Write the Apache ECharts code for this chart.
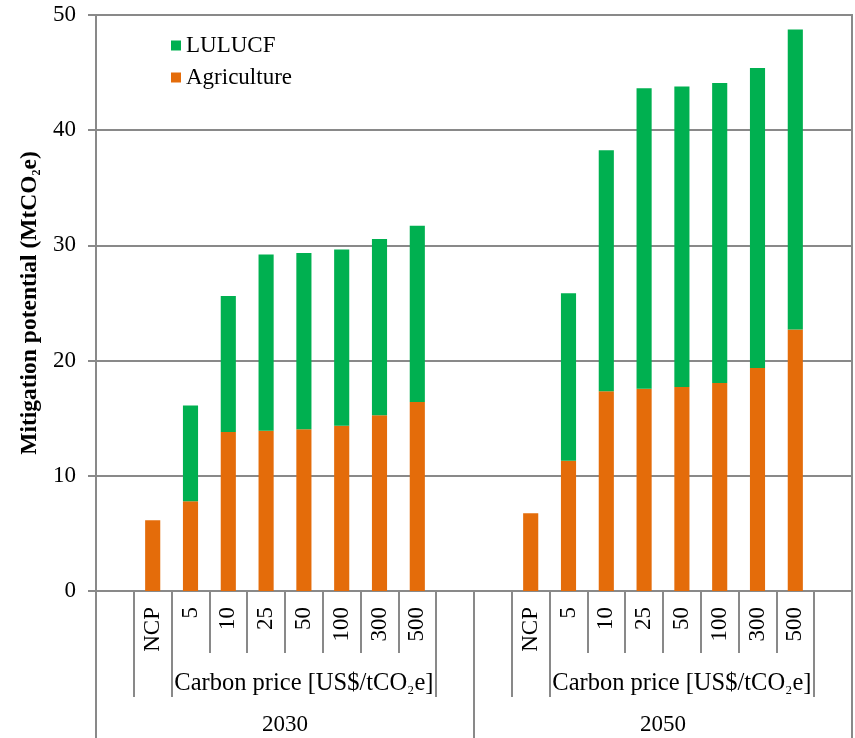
<!DOCTYPE html>
<html>
<head>
<meta charset="utf-8">
<script src="https://cdn.jsdelivr.net/npm/echarts@6/dist/echarts.min.js"></script>
<style>
  html, body { margin: 0; padding: 0; background: #fff; }
  #chart { width: 855px; height: 738px; }
</style>
</head>
<body>
<div id="chart"></div>
<script>
// Carbon price levels (NCP = no carbon price) and scenario years
const priceLabels = ['NCP', '5', '10', '25', '50', '100', '300', '500'];
const years = ['2030', '2050'];
const priceAxisTitle = 'Carbon price [US$/tCO{sub|₂}e]';
const valueAxisTitle = 'Mitigation potential (MtCO{sub|₂}e)';

// Mitigation potential, MtCO2e
const agriculture2030 = [6.15, 7.8, 13.8, 13.9, 14.05, 14.35, 15.25, 16.4];
const lulucf2030 = [null, 8.3, 11.8, 15.3, 15.3, 15.3, 15.3, 15.3];
const agriculture2050 = [6.75, 11.3, 17.35, 17.55, 17.7, 18.05, 19.35, 22.7];
const lulucf2050 = [null, 14.55, 20.9, 26.1, 26.1, 26.05, 26.05, 26.05];

// Each year block gets an empty slot on both sides of its price levels
const padBlock = arr => [null, ...arr, null];
const categories = years.flatMap(() => ['', ...priceLabels, '']);
const agricultureData = [...padBlock(agriculture2030), ...padBlock(agriculture2050)];
const lulucfData = [...padBlock(lulucf2030), ...padBlock(lulucf2050)];
const BLOCK = priceLabels.length + 2;

const FONT = '"Liberation Serif", "Times New Roman", serif';
const GRAY = '#898989';
const txt = { fontFamily: FONT, fontSize: 23, color: '#000' };

const chart = echarts.init(document.getElementById('chart'), null, { renderer: 'canvas' });
chart.setOption({
  animation: false,
  backgroundColor: '#fff',
  grid: {
    left: 96, right: 3, top: 15, bottom: 147,
    show: true, borderColor: GRAY, borderWidth: 2, backgroundColor: 'transparent'
  },
  legend: {
    data: ['LULUCF', 'Agriculture'],
    orient: 'vertical',
    left: 166, top: 29,
    itemWidth: 10, itemHeight: 10, itemGap: 9,
    icon: 'rect',
    textStyle: Object.assign({}, txt)
  },
  xAxis: [
    { // price level labels and the short separators between prices
      type: 'category', data: categories, position: 'bottom',
      axisLine: { show: true, lineStyle: { color: GRAY, width: 2 } },
      axisTick: {
        show: true, length: 62,
        interval: i => (i % BLOCK) >= 3 && (i % BLOCK) <= BLOCK - 2,
        lineStyle: { color: GRAY, width: 2 }
      },
      axisLabel: Object.assign({ interval: 0, rotate: 90, margin: 16 }, txt),
      splitLine: { show: false }
    },
    { // "Carbon price" band with its enclosing separators
      type: 'category', data: categories, position: 'bottom',
      axisLine: { show: false },
      axisTick: {
        show: true, length: 106,
        interval: i => [1, 2, BLOCK - 1].includes(i % BLOCK),
        lineStyle: { color: GRAY, width: 2 }
      },
      axisLabel: Object.assign({
        interval: 0, margin: 80,
        formatter: (v, i) => (i % BLOCK === 5 ? priceAxisTitle : ''),
        rich: { sub: { fontFamily: FONT, fontSize: 21, color: '#000', padding: [2, 0, 0, 0] } }
      }, txt, { fontSize: 24.5 }),
      splitLine: { show: false }
    },
    { // scenario years
      type: 'category', data: years, position: 'bottom',
      axisLine: { show: false },
      axisTick: { show: true, length: 147, interval: 0, lineStyle: { color: GRAY, width: 2 } },
      axisLabel: Object.assign({ interval: 0, margin: 122 }, txt),
      splitLine: { show: false }
    }
  ],
  yAxis: {
    type: 'value', min: 0, max: 50, interval: 10,
    name: valueAxisTitle,
    nameLocation: 'middle', nameRotate: 90, nameGap: 54,
    nameTextStyle: {
      fontFamily: FONT, fontSize: 23.5, fontWeight: 'bold', color: '#000',
      rich: { sub: { fontFamily: FONT, fontSize: 20, fontWeight: 'bold', color: '#000', padding: [2, 0, 0, 0] } }
    },
    axisLine: { show: true, lineStyle: { color: GRAY, width: 2 } },
    axisTick: { show: true, length: 8, lineStyle: { color: GRAY, width: 2 } },
    axisLabel: Object.assign({ margin: 20 }, txt),
    splitLine: { show: true, lineStyle: { color: GRAY, width: 2 } }
  },
  series: [
    {
      name: 'Agriculture', type: 'bar', stack: 'total', xAxisIndex: 0,
      data: agricultureData, barWidth: '40%',
      itemStyle: { color: '#E46C0A' }
    },
    {
      name: 'LULUCF', type: 'bar', stack: 'total', xAxisIndex: 0,
      data: lulucfData, barWidth: '40%',
      itemStyle: { color: '#00B050' }
    }
  ]
});
</script>
</body>
</html>
